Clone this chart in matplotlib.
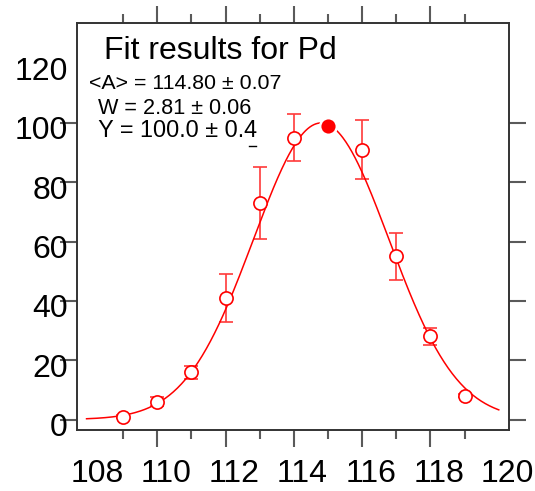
import numpy as np
import matplotlib
matplotlib.use("Agg")
import matplotlib.pyplot as plt
import matplotlib.transforms as mtransforms
from matplotlib.ticker import FixedLocator
from matplotlib.lines import Line2D

# ---- data ----
mass_numbers = [109, 110, 111, 112, 113, 114, 116, 117, 118, 119]
yields = [1, 6, 16, 41, 73, 95, 91, 55, 28, 8]
yield_errors = [0.5, 1.5, 2.2, 8, 12, 8, 10, 8, 3, 0.5]
peak_mass = [115.0]
peak_yield = [99]
fit_A = 114.80
fit_W = 2.81
fit_Y = 100.0
curve_range = [107.93, 120.0]
x_ticks = [108, 110, 112, 114, 116, 118, 120]
x_minor_ticks = [109, 111, 113, 115, 117, 119]
y_ticks = [0, 20, 40, 60, 80, 100, 120]
title_text = "Fit results for Pd"
param_lines = ["<A> = 114.80 \u00b1 0.07", " W = 2.81 \u00b1 0.06", " Y = 100.0 \u00b1 0.4"]

plt.rcParams['font.family'] = ['Liberation Sans', 'DejaVu Sans']

W_PX, H_PX = 535, 491
fig = plt.figure(figsize=(W_PX / 100, H_PX / 100), dpi=100)

def fx(px):
    return px / W_PX

def fy(py):
    return 1 - py / H_PX

left, right, top, bottom = 77, 509, 23, 430
ax = fig.add_axes([fx(left), fy(bottom), fx(right) - fx(left), fy(top) - fy(bottom)])

ax.set_xlim(107.65, 120.3)
ax.set_ylim(-3.54, 133.7)

# fitted curve from stated parameters
xc = np.linspace(curve_range[0], curve_range[1], 400)
yc = fit_Y * np.exp(-((xc - fit_A) / fit_W) ** 2)
ax.plot(xc, yc, color='red', lw=1.1, zorder=3)

ax.errorbar(mass_numbers, yields, yerr=yield_errors, fmt='none', ecolor='#ff3a3a',
            elinewidth=1.2, capsize=4.7, capthick=1.2, zorder=2)
ax.plot(mass_numbers, yields, 'o', mfc='white', mec='red', ms=9.5, mew=1.2, zorder=4)
ax.plot(peak_mass, peak_yield, 'o', mfc='red', mec='white', ms=12, mew=1.8, zorder=5)

# axes styling
for sp in ax.spines.values():
    sp.set_color('#333333')
    sp.set_linewidth(1.4)

ax.set_xticks(x_ticks)
ax.set_xticklabels([str(t) for t in x_ticks])
ax.xaxis.set_minor_locator(FixedLocator(x_minor_ticks))
ax.set_yticks(y_ticks)
ax.set_yticklabels([str(t) for t in y_ticks])

ax.tick_params(axis='both', which='both', direction='out', top=True, right=True,
               color='#5a5a5a', width=1.5)
ax.tick_params(axis='x', which='major', length=12.2, labelsize=23, pad=9)
ax.tick_params(axis='x', which='minor', length=6.5)
ax.tick_params(axis='y', which='major', length=12.2, labelsize=23, pad=-5.5, labelright=False)

# label-only ticks (no tick marks) at the ends
ymaj = ax.yaxis.get_major_ticks()
ymaj[-1].tick1line.set_visible(False)
ymaj[-1].tick2line.set_visible(False)
xmaj = ax.xaxis.get_major_ticks()
for t in (xmaj[0], xmaj[-1]):
    t.tick1line.set_visible(False)
    t.tick2line.set_visible(False)

xoff = mtransforms.ScaledTranslation(8.5 / 100, 0, fig.dpi_scale_trans)
for lab in ax.get_xticklabels():
    lab.set_transform(lab.get_transform() + xoff)
yoff = mtransforms.ScaledTranslation(0, -5 / 100, fig.dpi_scale_trans)
for lab in ax.get_yticklabels():
    lab.set_transform(lab.get_transform() + yoff)

# annotation text
fig.text(fx(104), fy(59.3), title_text, fontsize=23, ha='left', va='baseline')
fig.text(fx(89), fy(88.7), param_lines[0], fontsize=15.4, ha='left', va='baseline')
fig.text(fx(92), fy(113.7), param_lines[1], fontsize=15.6, ha='left', va='baseline')
t3 = fig.text(fx(92), fy(137), param_lines[2], fontsize=16.8, ha='left', va='baseline')

# small underline beneath the last digit
fig.canvas.draw()
bb = t3.get_window_extent()
x_end = bb.x1
fig.add_artist(Line2D([(x_end - 8) / W_PX, (x_end - 1) / W_PX], [fy(145.5), fy(145.5)],
                      transform=fig.transFigure, color='black', lw=1.0))

fig.savefig('out.png', dpi=100)
